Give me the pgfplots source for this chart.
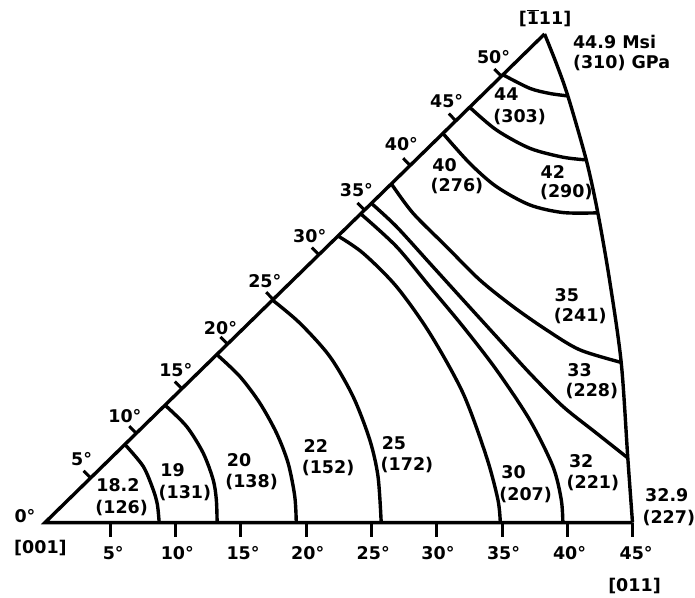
\documentclass[border=0pt]{standalone}
\usepackage{fontspec}
\setmainfont{DejaVu Sans}
\usepackage{pgfplots}
\pgfplotsset{compat=1.18}
\tikzset{lbl/.style={font=\fontsize{17.5}{19}\selectfont\bfseries, inner sep=0pt, text=black}}
\begin{document}
\begin{tikzpicture}
\begin{axis}[
  width=695pt, height=598pt, scale only axis,
  xmin=0, xmax=695, ymin=0, ymax=598, y dir=reverse,
  hide axis, clip=false,
  unbounded coords=jump,
  every axis plot/.append style={black, line width=3.4pt, mark=none},
]
\path (0,0) rectangle (695,598);
% triangle edges
\addplot[sharp plot, line join=miter] coordinates {(545,34) (45,523) (633,523)};
\addplot[smooth, tension=0.5] coordinates {(545,34) (556.7,63.3) (568.3,96) (586.7,160) (598.3,213) (610,280) (621.7,362.7) (628.3,458.3) (633,523)};
% bottom ticks
\addplot[sharp plot, line width=3pt] coordinates {
(110.3,523) (110.3,537) (nan,nan)
(175.7,523) (175.7,537) (nan,nan)
(241,523) (241,537) (nan,nan)
(306.4,523) (306.4,537) (nan,nan)
(371.8,523) (371.8,537) (nan,nan)
(437,523) (437,537) (nan,nan)
(502.5,523) (502.5,537) (nan,nan)
(567.8,523) (567.8,537) (nan,nan)
(633,523) (633,537)};
% left edge ticks
\addplot[sharp plot, line width=3pt] coordinates {
(90.7,478.3) (83.7,471.2) (nan,nan)
(136.4,433.6) (129.4,426.5) (nan,nan)
(182.0,389.0) (175.0,381.8) (nan,nan)
(227.7,344.3) (220.7,337.2) (nan,nan)
(273.4,299.6) (266.4,292.5) (nan,nan)
(319.1,254.9) (312.1,247.8) (nan,nan)
(364.8,210.3) (357.8,203.1) (nan,nan)
(410.5,165.6) (403.5,158.4) (nan,nan)
(456.2,120.9) (449.2,113.7) (nan,nan)
(501.8,76.2) (494.8,69.1)};
% contours
\addplot[smooth] coordinates {(125,444.8) (143.3,466.7) (153.3,490) (157.5,505) (159.3,523)};
\addplot[smooth] coordinates {(165.2,405.5) (186.7,426.7) (203.3,453.3) (213.3,480) (216.5,500) (217.3,523)};
\addplot[smooth] coordinates {(217,354.8) (240,376.7) (260,403.3) (276.7,433.3) (288.3,463.3) (295,496.7) (296.5,523)};
\addplot[smooth] coordinates {(272.7,300.3) (300,323.3) (330,356.7) (353.3,396.7) (370,440) (378.3,476.7) (381.5,523)};
\addplot[smooth] coordinates {(338.3,236.2) (363.3,253.3) (396.7,286.7) (430,333.3) (463.3,393.3) (486.7,456.7) (498.3,500) (500.7,523)};
\addplot[smooth] coordinates {(361,214) (396.7,246.7) (430,286.7) (463.3,326.7) (496.7,370) (530,420) (553.3,466.7) (561.7,500) (563.3,523)};
\addplot[smooth] coordinates {(371.7,203.5) (396.7,226.7) (430,263.3) (463.3,300) (496.7,336.7) (530,373.3) (563.3,406.7) (596.7,433.3) (628.3,458.3)};
\addplot[smooth] coordinates {(391.7,184) (413.3,213.3) (446.7,246.7) (480,280) (513.3,306.7) (546.7,330) (580,350) (621.7,362.7)};
\addplot[smooth] coordinates {(443.3,133.5) (470,163.3) (496.7,186.7) (530,205) (563.3,212.7) (598.3,213)};
\addplot[smooth] coordinates {(470,107.3) (496.7,130) (530,148.3) (563.3,157.3) (586.7,160)};
\addplot[smooth] coordinates {(503.3,74.8) (530,88.3) (550,93.5) (568.3,96)};
% contour labels
\node[lbl] at (118,486) {18.2};
\node[lbl] at (121.7,508) {(126)};
\node[lbl] at (172.7,471) {19};
\node[lbl] at (185,493.3) {(131)};
\node[lbl] at (239.3,460.7) {20};
\node[lbl] at (251.7,482.7) {(138)};
\node[lbl] at (316,446.7) {22};
\node[lbl] at (328.3,468.3) {(152)};
\node[lbl] at (394.3,443.3) {25};
\node[lbl] at (407.3,465) {(172)};
\node[lbl] at (514,472.7) {30};
\node[lbl] at (526,495) {(207)};
\node[lbl] at (581.7,461.7) {32};
\node[lbl] at (593.3,483.3) {(221)};
\node[lbl] at (580,370) {33};
\node[lbl] at (592.3,391.7) {(228)};
\node[lbl] at (567.3,295) {35};
\node[lbl] at (580.7,316.7) {(241)};
\node[lbl] at (445,165) {40};
\node[lbl] at (457.3,185.7) {(276)};
\node[lbl] at (553.3,171.7) {42};
\node[lbl] at (566.7,191.7) {(290)};
\node[lbl] at (506.7,94) {44};
\node[lbl] at (520,116.7) {(303)};
\node[lbl] at (667.3,496) {32.9};
\node[lbl] at (669.3,518.3) {(227)};
\node[lbl, anchor=west] at (573.3,41.7) {44.9 Msi};
\node[lbl, anchor=west] at (573.3,63.3) {(310) GPa};
% poles
\node[lbl] at (545.5,18.3) {[$\overline{\hbox{1}}$11]};
\node[lbl] at (40.5,548.3) {[001]};
\node[lbl] at (635,586.7) {[011]};
\node[lbl] at (25,516.7) {0°};
% bottom angle labels
\node[lbl] at (113.3,553.3) {5°};
\node[lbl] at (177.5,553.3) {10°};
\node[lbl] at (243.3,553.3) {15°};
\node[lbl] at (308,553.3) {20°};
\node[lbl] at (373.5,553.3) {25°};
\node[lbl] at (438.3,553.3) {30°};
\node[lbl] at (504,553.3) {35°};
\node[lbl] at (570,553.3) {40°};
\node[lbl] at (636.7,553.3) {45°};
% left edge angle labels
\node[lbl] at (81.7,459.3) {5°};
\node[lbl] at (125,416) {10°};
\node[lbl] at (176,370.5) {15°};
\node[lbl] at (220.7,328.3) {20°};
\node[lbl] at (265,281.7) {25°};
\node[lbl] at (310,236) {30°};
\node[lbl] at (356.7,190) {35°};
\node[lbl] at (401.7,144) {40°};
\node[lbl] at (447,101) {45°};
\node[lbl] at (494,57) {50°};
\end{axis}
\end{tikzpicture}
\end{document}
